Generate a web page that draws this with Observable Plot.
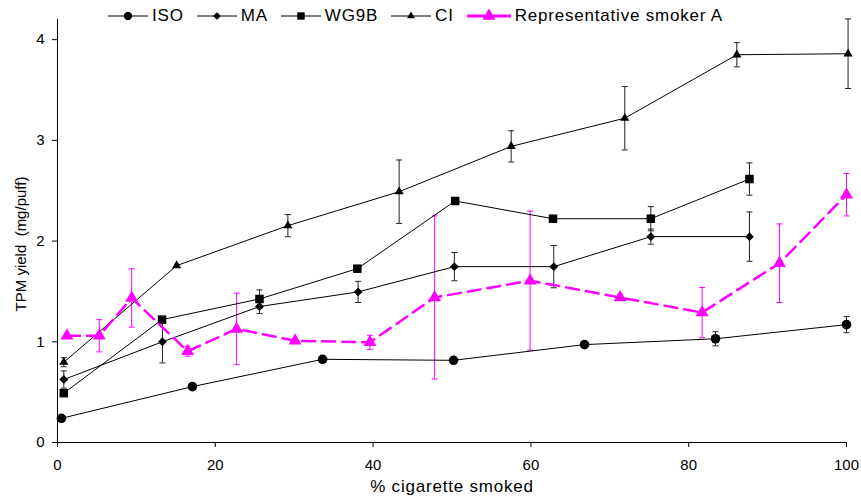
<!DOCTYPE html>
<html>
<head>
<meta charset="utf-8">
<script src="https://cdn.jsdelivr.net/npm/d3@7"></script>
<script src="https://cdn.jsdelivr.net/npm/@observablehq/plot@0.6"></script>
<style>
  html, body { margin: 0; padding: 0; background: #fff; }
  #wrap { position: relative; width: 861px; height: 500px; font-family: "Liberation Sans", Arial, sans-serif; overflow: hidden; }
  #legend { position: absolute; top: 6px; left: 108px; display: flex; align-items: center; font-size: 17px; letter-spacing: 0.8px; color: #000; }
  #legend .item { display: flex; align-items: center; margin-right: 13px; }
  #legend .item span { margin-left: 4px; line-height: 20px; white-space: nowrap; }
  #legend svg { display: block; }
  #ylabel { position: absolute; left: 20px; top: 244px; transform: translate(-50%, -50%) rotate(-90deg); font-size: 15px; white-space: pre; color: #000; }
</style>
</head>
<body>
<div id="wrap">
  <div id="chart"></div>
  <div id="legend"></div>
  <div id="ylabel"></div>
</div>
<script>
// ---- data ----
const seriesNames = ["ISO", "MA", "WG9B", "CI", "Representative smoker A"];

const isoX   = [0.5, 17.1, 33.6, 50.2, 66.8, 83.4, 100];
const isoY   = [0.24, 0.555, 0.826, 0.816, 0.972, 1.03, 1.17];
const isoErr = [0, 0, 0, 0, 0, 0.07, 0.08];

const maX   = [0.8, 13.3, 25.6, 38.1, 50.3, 62.9, 75.2, 87.7];
const maY   = [0.625, 1.0, 1.35, 1.495, 1.746, 1.746, 2.044, 2.044];
const maErr = [0.085, 0.21, 0.07, 0.105, 0.14, 0.21, 0.075, 0.245];

const wgX   = [0.8, 13.25, 25.6, 38.0, 50.4, 62.8, 75.2, 87.7];
const wgY   = [0.49, 1.22, 1.425, 1.726, 2.398, 2.222, 2.222, 2.616];
const wgErr = [0, 0, 0.09, 0, 0, 0, 0.12, 0.16];

const ciX   = [0.8, 15.1, 29.2, 43.3, 57.5, 71.9, 86.1, 100.2];
const ciY   = [0.797, 1.756, 2.153, 2.49, 2.94, 3.22, 3.85, 3.86];
const ciErr = [0.045, 0, 0.11, 0.315, 0.155, 0.315, 0.12, 0.345];

const repX   = [1.2, 5.3, 9.4, 16.5, 22.7, 30.1, 39.6, 47.8, 59.9, 71.3, 81.7, 91.5, 100];
const repY   = [1.06, 1.06, 1.435, 0.906, 1.128, 1.01, 0.995, 1.44, 1.607, 1.44, 1.29, 1.78, 2.46];
const repErr = [0, 0.16, 0.29, 0.05, 0.355, 0, 0.07, 0.81, 0.69, 0.03, 0.25, 0.39, 0.21];

const xTicks = [0, 20, 40, 60, 80, 100];
const yTicks = [0, 1, 2, 3, 4];
const xLabel = "% cigarette smoked";
const yLabel = "TPM yield  (mg/puff)";

// ---- styling per series ----
const MAG = "#ff00ff";
const styles = {
  "ISO": {symbol: "circle", r: 4.8, color: "#000"},
  "MA": {symbol: "diamond2", r: 4.0, color: "#000"},
  "WG9B": {symbol: "square", r: 4.8, color: "#000"},
  "CI": {symbol: "triangle", r: 3.4, color: "#000"},
  "Representative smoker A": {symbol: "triangle", r: 4.8, color: MAG}
};
const d3Symbols = {circle: d3.symbolCircle, diamond2: d3.symbolDiamond2, square: d3.symbolSquare, triangle: d3.symbolTriangle};

function rows(name, xs, ys, es) {
  return xs.map((x, i) => ({series: name, x, y: ys[i], e: es[i]}));
}
const data = {
  "ISO": rows("ISO", isoX, isoY, isoErr),
  "MA": rows("MA", maX, maY, maErr),
  "WG9B": rows("WG9B", wgX, wgY, wgErr),
  "CI": rows("CI", ciX, ciY, ciErr),
  "Representative smoker A": rows("Representative smoker A", repX, repY, repErr)
};

const capSymbol = {
  draw(ctx, size) {
    const w = Math.sqrt(size / Math.PI);
    ctx.moveTo(-w, 0);
    ctx.lineTo(w, 0);
  }
};

const marks = [];
// error bars first
for (const name of seriesNames) {
  const d = data[name].filter(r => r.e > 0);
  const col = name === "Representative smoker A" ? MAG : "#222";
  marks.push(Plot.ruleX(d, {x: "x", y1: r => r.y - r.e, y2: r => r.y + r.e, stroke: col, strokeWidth: 1}));
  marks.push(Plot.dot(d, {x: "x", y: r => r.y + r.e, symbol: capSymbol, r: 3, stroke: col, strokeWidth: 1, fill: "none"}));
  marks.push(Plot.dot(d, {x: "x", y: r => r.y - r.e, symbol: capSymbol, r: 3, stroke: col, strokeWidth: 1, fill: "none"}));
}
// lines + markers
for (const name of seriesNames) {
  const s = styles[name];
  const isRep = name === "Representative smoker A";
  marks.push(Plot.line(data[name], {
    x: "x", y: "y", stroke: s.color,
    strokeWidth: isRep ? 2.5 : 1,
    strokeDasharray: isRep ? "13,7" : null
  }));
  marks.push(Plot.dot(data[name], {x: "x", y: "y", symbol: s.symbol, r: s.r, fill: s.color, stroke: "none"}));
}
// axes
marks.push(Plot.axisX({ticks: xTicks, tickSize: 5, tickPadding: 12, label: null, fontSize: 15}));
marks.push(Plot.axisY({ticks: yTicks, tickSize: 5, tickPadding: 8, label: null, fontSize: 15, tickFormat: d3.format("d")}));
marks.push(Plot.ruleY([0]));
marks.push(Plot.ruleX([0]));
marks.push(Plot.text([xLabel], {frameAnchor: "bottom", dy: 49, fontSize: 17, text: d => d}));

const chart = Plot.plot({
  width: 861,
  height: 500,
  marginLeft: 57,
  marginRight: 15,
  marginTop: 19,
  marginBottom: 58,
  x: {domain: [0, 100]},
  y: {domain: [0, 4.2]},
  style: {fontFamily: '"Liberation Sans", Arial, sans-serif', fontSize: "15px", color: "#000", background: "#fff", overflow: "visible"},
  marks
});
document.getElementById("chart").appendChild(chart);
d3.select(chart).selectAll("text").filter(function() { return this.textContent === xLabel; })
  .attr("letter-spacing", "0.8px");

document.getElementById("ylabel").textContent = yLabel;

// ---- legend (HTML) ----
const legend = d3.select("#legend");
for (const name of seriesNames) {
  const s = styles[name];
  const isRep = name === "Representative smoker A";
  const w = isRep ? 44 : 40;
  const item = legend.append("div").attr("class", "item");
  const svg = item.append("svg").attr("width", w).attr("height", 16);
  svg.append("line").attr("x1", 0).attr("x2", w).attr("y1", 8).attr("y2", 8)
    .attr("stroke", s.color).attr("stroke-width", isRep ? 3 : 1);
  svg.append("path")
    .attr("d", d3.symbol(d3Symbols[s.symbol], s.r * s.r * Math.PI * (isRep ? 1 : 0.75))())
    .attr("transform", `translate(${w / 2},8)`)
    .attr("fill", s.color);
  item.append("span").text(name);
}
</script>
</body>
</html>
